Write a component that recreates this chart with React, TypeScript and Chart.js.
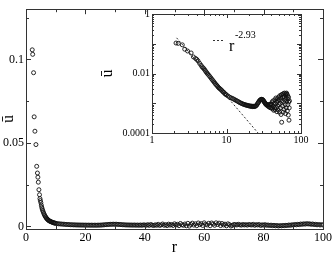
import React, { useEffect, useRef } from "react";
import { Chart, registerables } from "chart.js";
Chart.register(...registerables);

const FONT = "'Liberation Serif', 'Times New Roman', serif";

// ---- data: r and mean u ----
const rHead = [2.1, 2.25, 2.55, 2.75, 3.0, 3.35, 3.6, 3.85, 4.0, 4.15, 4.35, 4.55, 4.7, 4.85, 5.0, 5.15, 5.3, 5.45, 5.6, 5.8, 6.0, 6.2, 6.4, 6.6, 6.8, 7.0, 7.2, 7.4, 7.6, 7.8, 8.0, 8.25, 8.5, 8.75, 9.0, 9.25, 9.5, 9.75];
const uHead = [0.1057, 0.103, 0.092, 0.0656, 0.057, 0.049, 0.036, 0.032, 0.0295, 0.0265, 0.022, 0.019, 0.0167, 0.0155, 0.0143, 0.0128, 0.0115, 0.0105, 0.0096, 0.0087, 0.0078, 0.007, 0.0063, 0.0057, 0.0052, 0.0047, 0.0043, 0.004, 0.0037, 0.0034, 0.0032, 0.003, 0.0028, 0.0026, 0.0024, 0.0023, 0.0021, 0.002];

const rMid = [10, 10.5, 11, 11.5, 12, 12.5, 13, 13.5, 14, 14.5, 15, 15.5, 16, 16.5, 17, 17.5, 18, 18.5, 19, 19.5, 20, 20.5, 21, 21.5, 22, 22.5, 23, 23.5, 24, 24.5, 25, 25.5, 26, 26.5, 27, 27.5, 28, 28.5, 29, 29.5, 30, 30.5, 31, 31.5, 32, 32.5, 33, 33.5, 34, 34.5, 35, 35.5, 36, 36.5, 37, 37.5, 38, 38.5, 39, 39.5];
const uMid = [0.0019, 0.00175, 0.0016, 0.00152, 0.00145, 0.00138, 0.0013, 0.00124, 0.00118, 0.00112, 0.00106, 0.00102, 0.00098, 0.00095, 0.00092, 0.0009, 0.00088, 0.00086, 0.00085, 0.00083, 0.00082, 0.0008, 0.00081, 0.00078, 0.0008, 0.00077, 0.00079, 0.00077, 0.00079, 0.0008, 0.00083, 0.00088, 0.00095, 0.00103, 0.0011, 0.00118, 0.00125, 0.0013, 0.00134, 0.00136, 0.00135, 0.00132, 0.00127, 0.0012, 0.00113, 0.00106, 0.001, 0.00095, 0.0009, 0.00092, 0.00085, 0.00088, 0.0008, 0.0009, 0.00077, 0.00088, 0.00073, 0.00092, 0.0007, 0.00095];

const rScatter = [40, 40.5, 41, 41.5, 42, 42.5, 43, 43.5, 44, 44.5, 45, 45.5, 46, 46.5, 47, 47.5, 48, 48.5, 49, 49.5, 50, 50.5, 51, 51.5, 52, 52.5, 53, 53.5, 54, 54.5, 55, 55.5, 56, 56.5, 57, 57.5, 58, 58.5, 59, 59.5, 60, 60.5, 61, 61.5, 62, 62.5, 63, 63.5, 64, 64.5, 65, 65.5, 66, 66.5, 67, 67.5, 68, 68.5, 69, 69.5, 70];
const uScatter = [0.0009, 0.00072, 0.0011, 0.00065, 0.0012, 0.0008, 0.00058, 0.001, 0.0007, 0.0013, 0.0006, 0.00095, 0.0015, 0.0007, 0.0011, 0.00052, 0.0014, 0.0008, 0.0012, 0.0006, 0.0016, 0.0009, 0.0013, 0.0005, 0.0018, 0.001, 0.0007, 0.0015, 0.00042, 0.0019, 0.00023, 0.0012, 0.002, 0.0008, 0.0016, 0.0005, 0.0021, 0.0011, 0.0017, 0.00062, 0.0022, 0.0013, 0.0009, 0.0019, 0.00045, 0.0021, 0.0015, 0.0007, 0.0022, 0.0012, 0.002, 0.00055, 0.0018, 0.0009, 0.0014, 0.0004, 0.0016, 0.0011, 0.00027, 0.0007, 0.0012];

const rTail = [70.5, 71, 71.5, 72, 72.5, 73, 73.5, 74, 74.5, 75, 75.5, 76, 76.5, 77, 77.5, 78, 78.5, 79, 79.5, 80, 80.5, 81, 81.5, 82, 82.5, 83, 83.5, 84, 84.5, 85, 85.5, 86, 86.5, 87, 87.5, 88, 88.5, 89, 89.5, 90, 90.5, 91, 91.5, 92, 92.5, 93, 93.5, 94, 94.5, 95, 95.5, 96, 96.5, 97, 97.5, 98, 98.5, 99, 99.5, 100];
const uTail = [0.0011, 0.0009, 0.0013, 0.001, 0.0008, 0.0012, 0.0009, 0.0011, 0.0008, 0.0012, 0.001, 0.0009, 0.0013, 0.0007, 0.0011, 0.0009, 0.0012, 0.0006, 0.001, 0.0008, 0.0011, 0.0007, 0.0009, 0.0006, 0.0008, 0.0005, 0.0007, 0.0004, 0.0006, 0.0003, 0.0005, 0.0004, 0.0006, 0.0005, 0.0007, 0.0006, 0.0009, 0.0007, 0.001, 0.0009, 0.0012, 0.001, 0.0013, 0.0011, 0.0015, 0.0013, 0.0016, 0.0014, 0.0017, 0.0015, 0.0016, 0.0013, 0.0015, 0.0012, 0.0013, 0.001, 0.0012, 0.0009, 0.0011, 0.0009];

// power-law guide r^-2.93
const fitR = [2.14, 26.5];
const fitU = [0.158, 0.0001];
const fitLabel = "r";
const fitExponent = "-2.93";

// ticks
const mainXTicks = [0, 20, 40, 60, 80, 100];
const mainXMinor = [10, 30, 50, 70, 90];
const mainYTicks = [0, 0.05, 0.1];
const mainYMinor = [0.025, 0.075, 0.125];
const insetXDecades = [1, 10, 100];
const insetYDecades = [0.0001, 0.001, 0.01, 0.1, 1];
const insetXLabels = [1, 10, 100];
const insetYLabels = [0.0001, 0.01, 1];
const minorMult = [2, 3, 4, 5, 6, 7, 8, 9];

const AXIS = "#333";

function pts(r: number[], u: number[]) {
  return r.map((v, i) => ({ x: v, y: u[i] }));
}

function makeTickPlugin(xMajor: number[], xMinor: number[], yMajor: number[], yMinor: number[], majLen: number, minLen: number) {
  return {
    id: "inTicks",
    beforeDatasetsDraw(chart: any) {
      const { ctx, chartArea: a } = chart;
      ctx.save();
      ctx.fillStyle = "#fff";
      ctx.fillRect(a.left, a.top, a.right - a.left, a.bottom - a.top);
      ctx.restore();
    },
    afterDraw(chart: any) {
      const { ctx, chartArea: a, scales } = chart;
      const x = scales.x, y = scales.y;
      ctx.save();
      ctx.strokeStyle = AXIS;
      ctx.lineWidth = 1;
      ctx.beginPath();
      const doX = (v: number, len: number) => {
        if (v < x.min || v > x.max) return;
        const p = Math.round(x.getPixelForValue(v)) + 0.5;
        ctx.moveTo(p, a.bottom); ctx.lineTo(p, a.bottom - len);
        ctx.moveTo(p, a.top); ctx.lineTo(p, a.top + len);
      };
      const doY = (v: number, len: number) => {
        if (v < y.min || v > y.max) return;
        const p = Math.round(y.getPixelForValue(v)) + 0.5;
        ctx.moveTo(a.left, p); ctx.lineTo(a.left + len, p);
        ctx.moveTo(a.right, p); ctx.lineTo(a.right - len, p);
      };
      xMajor.forEach((v) => doX(v, majLen));
      xMinor.forEach((v) => doX(v, minLen));
      yMajor.forEach((v) => doY(v, majLen));
      yMinor.forEach((v) => doY(v, minLen));
      ctx.stroke();
      ctx.strokeRect(Math.round(a.left) + 0.5, Math.round(a.top) + 0.5, Math.round(a.right - a.left), Math.round(a.bottom - a.top));
      ctx.restore();
    },
  };
}

function drawRotated(ctx: CanvasRenderingContext2D, text: string, x: number, y: number, font: string) {
  ctx.save();
  ctx.translate(x, y);
  ctx.rotate(-Math.PI / 2);
  ctx.font = font;
  ctx.fillStyle = "#000";
  ctx.textAlign = "center";
  ctx.textBaseline = "middle";
  ctx.fillText(text, 0, 0);
  ctx.restore();
}

export default function App() {
  const mainRef = useRef<HTMLCanvasElement>(null);
  const insetRef = useRef<HTMLCanvasElement>(null);

  useEffect(() => {
    const mainData = [...pts(rHead, uHead), ...pts(rMid, uMid), ...pts(rScatter, uScatter), ...pts(rTail, uTail)];
    const insetData = [...pts(rHead, uHead), ...pts(rMid, uMid), ...pts(rScatter, uScatter)];

    const mainTitles = {
      id: "mainTitles",
      afterDraw(chart: any) {
        const { ctx, chartArea: a } = chart;
        ctx.save();
        ctx.fillStyle = "#000";
        ctx.font = `16px ${FONT}`;
        ctx.textAlign = "center";
        ctx.textBaseline = "alphabetic";
        ctx.fillText("r", (a.left + a.right) / 2, a.bottom + 23);
        ctx.restore();
        drawRotated(ctx, "ū", a.left - 17, (a.top + a.bottom) / 2, `16px ${FONT}`);
      },
    };

    const main = new Chart(mainRef.current!, {
      type: "scatter",
      data: {
        datasets: [
          {
            data: mainData,
            showLine: false,
            pointRadius: 2,
            pointBorderWidth: 0.9,
            borderColor: "#111",
            backgroundColor: "rgba(0,0,0,0)",
          } as any,
        ],
      },
      options: {
        animation: false,
        responsive: false,
        maintainAspectRatio: false,
        layout: { padding: { top: 1, right: 9, left: 0, bottom: 0 } },
        plugins: { legend: { display: false }, tooltip: { enabled: false } },
        scales: {
          x: {
            type: "linear",
            min: 0,
            max: 100,
            grid: { display: false, drawTicks: false },
            border: { display: false },
            afterBuildTicks: (s: any) => { s.ticks = mainXTicks.map((v) => ({ value: v })); },
            afterFit: (s: any) => { s.height = 24; },
            ticks: { font: { family: FONT, size: 12 }, color: "#000", padding: 2, maxRotation: 0, autoSkip: false, callback: (v: any) => String(v) },
          },
          y: {
            type: "linear",
            min: -0.0015,
            max: 0.13,
            grid: { display: false, drawTicks: false },
            border: { display: false },
            afterBuildTicks: (s: any) => { s.ticks = mainYTicks.map((v) => ({ value: v })); },
            afterFit: (s: any) => { s.width = 26; },
            ticks: { font: { family: FONT, size: 12 }, color: "#000", padding: 2, autoSkip: false, callback: (v: any) => String(v) },
          },
        },
      } as any,
      plugins: [makeTickPlugin(mainXTicks, mainXMinor, mainYTicks, mainYMinor, 5, 3), mainTitles],
    });

    const xMinorLog: number[] = [];
    insetXDecades.forEach((d) => minorMult.forEach((m) => xMinorLog.push(d * m)));
    const yMinorLog: number[] = [];
    insetYDecades.forEach((d) => minorMult.forEach((m) => yMinorLog.push(d * m)));

    const insetExtras = {
      id: "insetExtras",
      afterDraw(chart: any) {
        const { ctx, chartArea: a } = chart;
        drawRotated(ctx, "ū", a.left - 44, (a.top + a.bottom) / 2, `16px ${FONT}`);
        ctx.save();
        ctx.strokeStyle = "#000";
        ctx.lineWidth = 0.8;
        ctx.setLineDash([2, 2]);
        ctx.beginPath();
        ctx.moveTo(a.left + 61, a.top + 26.5);
        ctx.lineTo(a.left + 73, a.top + 26.5);
        ctx.stroke();
        ctx.setLineDash([]);
        ctx.fillStyle = "#000";
        ctx.textBaseline = "alphabetic";
        ctx.textAlign = "left";
        ctx.font = `16px ${FONT}`;
        ctx.fillText(fitLabel, a.left + 77, a.top + 37);
        ctx.font = `10px ${FONT}`;
        ctx.fillText(fitExponent, a.left + 83, a.top + 24);
        ctx.restore();
      },
    };

    const inset = new Chart(insetRef.current!, {
      type: "scatter",
      data: {
        datasets: [
          {
            data: insetData,
            showLine: false,
            pointRadius: 2,
            pointBorderWidth: 0.9,
            borderColor: "#111",
            backgroundColor: "rgba(0,0,0,0)",
          } as any,
          {
            data: pts(fitR, fitU),
            showLine: true,
            pointRadius: 0,
            borderColor: "#000",
            borderWidth: 0.8,
            borderDash: [2, 2],
          } as any,
        ],
      },
      options: {
        animation: false,
        responsive: false,
        maintainAspectRatio: false,
        layout: { padding: { top: 7, right: 9, left: 0, bottom: 0 } },
        plugins: { legend: { display: false }, tooltip: { enabled: false } },
        scales: {
          x: {
            type: "logarithmic",
            min: 1,
            max: 100,
            grid: { display: false, drawTicks: false },
            border: { display: false },
            afterBuildTicks: (s: any) => { s.ticks = insetXLabels.map((v) => ({ value: v })); },
            afterFit: (s: any) => { s.height = 15; },
            ticks: { font: { family: FONT, size: 10 }, color: "#000", padding: 1, maxRotation: 0, autoSkip: false, callback: (v: any) => String(v) },
          },
          y: {
            type: "logarithmic",
            min: 0.0001,
            max: 1,
            grid: { display: false, drawTicks: false },
            border: { display: false },
            afterBuildTicks: (s: any) => { s.ticks = insetYLabels.map((v) => ({ value: v })); },
            afterFit: (s: any) => { s.width = 54; },
            ticks: { font: { family: FONT, size: 10 }, color: "#000", padding: 2, autoSkip: false, callback: (v: any) => String(v) },
          },
        },
      } as any,
      plugins: [makeTickPlugin(insetXDecades, xMinorLog, insetYDecades, yMinorLog, 4, 2), insetExtras],
    });

    return () => {
      main.destroy();
      inset.destroy();
    };
  }, []);

  return (
    <div style={{ position: "absolute", left: 0, top: 0, width: 334, height: 253, background: "#fff" }}>
      <canvas ref={mainRef} width={334} height={253} style={{ position: "absolute", left: 0, top: 0, width: 334, height: 253 }} />
      <canvas ref={insetRef} width={212} height={142} style={{ position: "absolute", left: 98, top: 6, width: 212, height: 142 }} />
    </div>
  );
}
